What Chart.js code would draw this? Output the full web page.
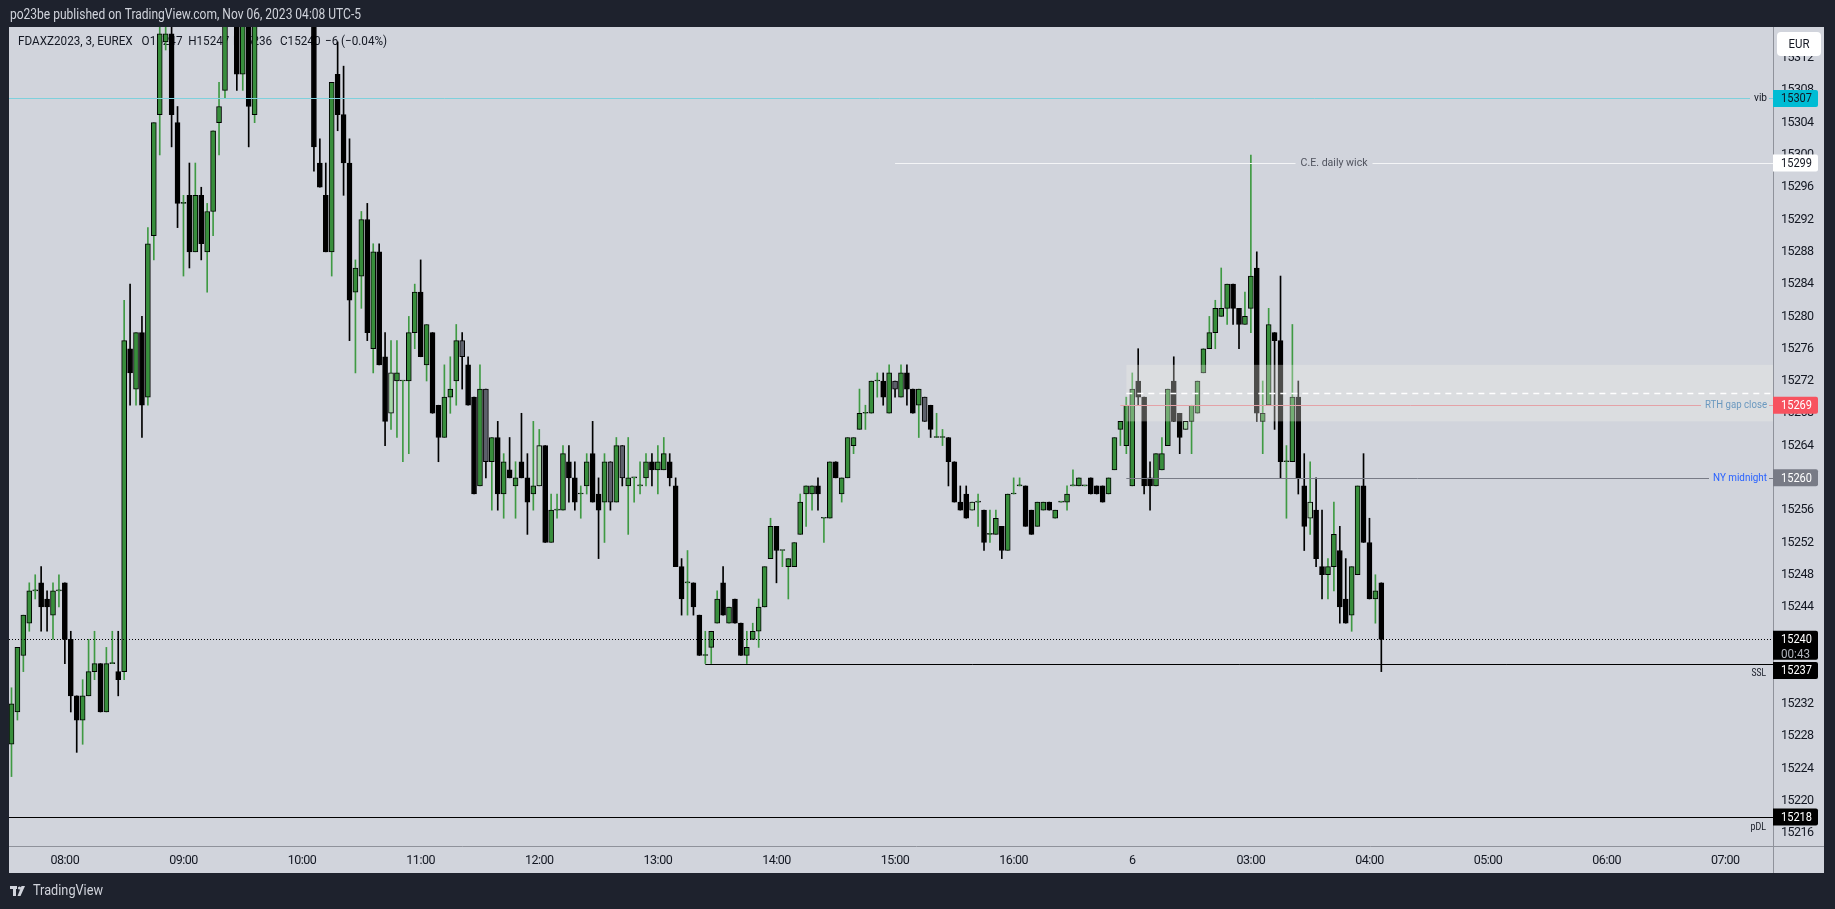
<!DOCTYPE html>
<html>
<head>
<meta charset="utf-8">
<title>FDAXZ2023, 3, EUREX</title>
<script src="https://cdn.jsdelivr.net/npm/chart.js@4.4.1/dist/chart.umd.min.js"></script>
<style>
  html, body { margin: 0; padding: 0; background: #1e222d; overflow: hidden; }
  #wrap { position: relative; width: 1835px; height: 909px; }
</style>
</head>
<body>
<div id="wrap"><canvas id="chart"></canvas></div>
<script>
// 3 minute candles, bar 0 = 07:33 (Nov 3) ... bar 231 = 04:06 (Nov 6)
const openP = [
  15227,15231,15238,15242,15246,15247,15245,15243,15246,15247,
  15240,15233,15230,15233,15236,15237,15231,15237,15236,15236,
  15276,15271,15278,15270,15290,15305,15314,15315,15304,15294,
  15295,15288,15295,15288,15293,15304,15308,15318,15321,15310,
  15317,15305,15318,15322,15326,15324,15321,15325,15329,15326,
  15323,15322,15299,15295,15288,15310,15305,15299,15283,15285,
  15292,15276,15288,15275,15268,15272,15272,15272,15278,15283,
  15274,15278,15269,15265,15270,15272,15277,15274,15270,15259,
  15271,15262,15265,15258,15261,15259,15262,15260,15258,15259,
  15264,15252,15256,15256,15262,15260,15258,15259,15263,15258,
  15257,15262,15257,15264,15259,15260,15259,15260,15262,15261,
  15261,15262,15259,15249,15247,15247,15243,15238,15239,15242,
  15247,15242,15245,15242,15238,15240,15241,15244,15250,15254,
  15251,15249,15249,15253,15258,15258,15259,15255,15255,15262,
  15258,15260,15264,15266,15268,15268,15272,15272,15268,15272,
  15270,15273,15271,15269,15270,15269,15265,15265,15265,15262,
  15257,15258,15256,15257,15256,15253,15253,15254,15251,15258,
  15259,15259,15256,15254,15256,15257,15255,15257,15257,15259,
  15259,15259,15260,15259,15259,15258,15261,15266,15264,15259,
  15272,15270,15260,15259,15261,15264,15272,15268,15266,15267,
  15268,15273,15276,15278,15280,15281,15284,15281,15279,15281,
  15286,15267,15269,15278,15277,15262,15262,15270,15259,15255,
  15256,15249,15248,15249,15251,15245,15243,15248,15259,15252,
  15245,15247
];
const highP = [
  15234,15239,15243,15247,15248,15249,15246,15247,15248,15247,
  15241,15233,15235,15240,15241,15237,15239,15241,15241,15282,
  15284,15278,15280,15291,15304,15316,15318,15317,15306,15295,
  15299,15299,15296,15294,15303,15309,15320,15324,15323,15319,
  15319,15320,15324,15328,15330,15327,15326,15331,15332,15328,
  15327,15325,15302,15299,15309,15314,15311,15302,15287,15293,
  15294,15289,15289,15278,15277,15277,15272,15280,15284,15287,
  15279,15278,15269,15274,15275,15279,15278,15275,15270,15274,
  15271,15265,15267,15263,15265,15262,15268,15263,15267,15266,
  15264,15258,15258,15264,15264,15262,15259,15263,15267,15260,
  15263,15262,15265,15264,15265,15260,15262,15263,15263,15264,
  15265,15263,15260,15250,15251,15247,15243,15241,15241,15246,
  15249,15244,15245,15242,15241,15242,15245,15249,15255,15254,
  15251,15250,15252,15258,15259,15259,15260,15255,15262,15262,
  15260,15265,15265,15271,15269,15272,15273,15273,15274,15272,
  15274,15274,15271,15271,15270,15269,15268,15266,15265,15262,
  15259,15259,15257,15258,15256,15256,15256,15254,15258,15260,
  15260,15259,15256,15257,15257,15257,15256,15257,15259,15261,
  15260,15259,15260,15259,15259,15260,15265,15267,15270,15273,
  15276,15270,15262,15263,15265,15271,15275,15268,15267,15269,
  15272,15276,15280,15282,15286,15284,15284,15281,15283,15300,
  15288,15272,15281,15278,15285,15264,15279,15272,15263,15262,
  15260,15256,15250,15257,15254,15250,15249,15259,15263,15255,
  15248,15247
];
const lowP = [
  15223,15230,15236,15241,15245,15241,15241,15240,15244,15237,
  15231,15226,15227,15233,15235,15231,15231,15237,15233,15235,
  15269,15269,15265,15269,15287,15300,15313,15301,15291,15285,
  15286,15288,15287,15283,15290,15300,15307,15316,15308,15308,
  15301,15304,15317,15320,15322,15319,15318,15323,15324,15320,
  15319,15298,15296,15288,15285,15303,15295,15277,15273,15281,
  15277,15273,15274,15264,15266,15265,15262,15263,15276,15275,
  15272,15268,15262,15265,15268,15269,15271,15269,15258,15259,
  15260,15256,15256,15255,15260,15255,15260,15253,15256,15259,
  15252,15252,15255,15256,15257,15256,15255,15258,15257,15250,
  15252,15256,15257,15259,15253,15257,15258,15259,15259,15258,
  15261,15259,15249,15243,15243,15243,15238,15237,15237,15242,
  15243,15242,15242,15238,15237,15240,15239,15244,15250,15247,
  15249,15245,15249,15253,15254,15256,15256,15252,15255,15260,
  15257,15260,15263,15266,15266,15268,15270,15269,15268,15270,
  15270,15269,15268,15265,15267,15265,15265,15264,15259,15257,
  15256,15255,15256,15254,15251,15252,15253,15250,15251,15258,
  15259,15254,15253,15254,15256,15256,15255,15257,15256,15259,
  15259,15259,15258,15258,15257,15258,15261,15264,15263,15259,
  15269,15258,15256,15259,15261,15264,15267,15263,15266,15263,
  15268,15273,15276,15276,15280,15279,15279,15276,15279,15278,
  15267,15263,15269,15266,15260,15255,15262,15258,15251,15253,
  15249,15245,15245,15246,15242,15242,15241,15248,15252,15245,
  15242,15236
];
const closeP = [
  15232,15239,15243,15246,15246,15244,15244,15246,15246,15240,
  15233,15230,15233,15236,15237,15231,15237,15237,15235,15277,
  15273,15278,15269,15289,15304,15315,15315,15305,15294,15294,
  15288,15295,15289,15293,15303,15306,15318,15322,15310,15317,
  15306,15318,15322,15326,15324,15321,15325,15329,15326,15323,
  15322,15301,15296,15288,15309,15305,15299,15282,15286,15292,
  15278,15288,15274,15267,15273,15273,15272,15278,15283,15275,
  15279,15268,15265,15270,15271,15277,15275,15269,15258,15271,
  15262,15265,15258,15262,15260,15260,15260,15257,15259,15264,
  15252,15256,15256,15263,15260,15257,15258,15262,15257,15256,
  15262,15257,15264,15260,15260,15260,15259,15262,15261,15262,
  15263,15260,15249,15245,15247,15244,15238,15238,15241,15245,
  15243,15244,15242,15238,15239,15241,15244,15249,15254,15251,
  15251,15250,15252,15257,15259,15259,15258,15255,15262,15260,
  15260,15265,15265,15268,15268,15272,15272,15270,15273,15271,
  15273,15271,15268,15271,15267,15266,15265,15265,15262,15257,
  15256,15255,15257,15257,15252,15253,15255,15251,15258,15258,
  15259,15254,15253,15257,15257,15256,15256,15257,15258,15259,
  15260,15259,15258,15258,15257,15260,15265,15267,15269,15271,
  15270,15259,15259,15263,15263,15271,15267,15265,15267,15269,
  15272,15276,15278,15281,15281,15284,15281,15279,15280,15285,
  15268,15268,15279,15277,15262,15262,15270,15260,15254,15257,
  15250,15248,15249,15253,15244,15242,15249,15259,15252,15245,
  15246,15240
];

// candles painted in other colours on the original
const lightBars = [64, 89, 162, 198, 219];
const grayBars = [76, 80, 101, 103, 149, 154];

// time axis
const timeTickIdx = [9, 29, 49, 69, 89, 109, 129, 149, 169, 189, 209, 229, 249, 269, 289];
const timeTickText = ['08:00', '09:00', '10:00', '11:00', '12:00', '13:00', '14:00', '15:00',
  '16:00', '6', '03:00', '04:00', '05:00', '06:00', '07:00'];

// price axis
const priceTicks = [15216, 15220, 15224, 15228, 15232, 15236, 15240, 15244, 15248, 15252,
  15256, 15260, 15264, 15268, 15272, 15276, 15280, 15284, 15288, 15292, 15296, 15300,
  15304, 15308, 15312];

// horizontal levels drawn on the chart
const levelNames = ['vib', 'C.E. daily wick', 'RTH gap close', 'NY midnight', 'SSL', 'pDL'];
const levelPrices = [15307, 15299, 15269, 15260, 15237, 15218];
const levelFromBar = [-1, 149, 187, 188, 117, -1];

// RTH gap zone
const zoneFromBar = 188;
const zoneHigh = 15274;
const zoneLow = 15267;

const FONT = "Roboto, 'Liberation Sans', sans-serif";
const last = closeP.length - 1;
const idx = closeP.map((_, i) => i);

function isUp(i) { return closeP[i] >= openP[i]; }
function bodyColor(i) {
  if (lightBars.includes(i)) return '#a5d6a7';
  if (grayBars.includes(i)) return '#5d606b';
  return isUp(i) ? '#388e3c' : '#000000';
}
function wickColor(i) {
  if (grayBars.includes(i)) return '#000000';
  return isUp(i) ? '#3f9a43' : '#000000';
}

// squeeze text horizontally so it takes the narrow width of the original UI font
function fitText(ctx, text, x, y, w, align) {
  ctx.save();
  ctx.letterSpacing = '0px';
  const nat = ctx.measureText(text).width;
  const k = Math.min(1, w / nat);
  ctx.translate(x, y);
  ctx.scale(k, 1);
  ctx.textAlign = align || 'left';
  ctx.fillText(text, 0, 0);
  ctx.restore();
  return nat * k;
}

function hLine(ctx, x1, x2, y, color, width, dash) {
  if (x2 <= x1) return;
  ctx.save();
  ctx.strokeStyle = color;
  ctx.lineWidth = width;
  ctx.setLineDash(dash || []);
  const yy = Math.round(y) + (width % 2 ? 0.5 : 0);
  ctx.beginPath();
  ctx.moveTo(x1, yy);
  ctx.lineTo(x2, yy);
  ctx.stroke();
  ctx.restore();
}

function roundBox(ctx, x, y, w, h, r, fill) {
  ctx.save();
  ctx.fillStyle = fill;
  ctx.beginPath();
  ctx.moveTo(x, y);
  ctx.lineTo(x + w - r, y);
  ctx.quadraticCurveTo(x + w, y, x + w, y + r);
  ctx.lineTo(x + w, y + h - r);
  ctx.quadraticCurveTo(x + w, y + h, x + w - r, y + h);
  ctx.lineTo(x, y + h);
  ctx.closePath();
  ctx.fill();
  ctx.restore();
}

const levelStyle = {
  'vib': { line: '#7fd0dc', text: '#131722', place: 'end', w: 13, box: '#00bcd4', fg: '#131722' },
  'C.E. daily wick': { line: '#f4f5f7', text: '#50535e', place: 'middle', w: 67, box: '#ffffff', fg: '#131722' },
  'RTH gap close': { line: '#e4a2a7', text: '#6a98bf', place: 'end', w: 62, box: '#f7525f', fg: '#ffffff' },
  'NY midnight': { line: '#787b86', text: '#2962ff', place: 'end', w: 54, box: '#787b86', fg: '#ffffff' },
  'SSL': { line: '#000000', text: '#131722', place: 'below', w: 14.5, box: '#000000', fg: '#ffffff', shift: 7 },
  'pDL': { line: '#000000', text: '#131722', place: 'below', w: 15.5, box: '#000000', fg: '#ffffff' }
};

const tvDecor = {
  id: 'tvDecor',
  beforeDraw(chart) {
    const ctx = chart.ctx;
    ctx.save();
    ctx.fillStyle = '#1e222d';
    ctx.fillRect(0, 0, chart.width, chart.height);
    ctx.fillStyle = '#d1d4dc';
    ctx.fillRect(9, 27, 1815, 846);
    ctx.restore();
    // tighter axis labels, closer to the narrow original font
    ctx.letterSpacing = '-0.5px';
  },
  beforeDatasetsDraw(chart) {
    // symbol legend sits under the candles
    const ctx = chart.ctx;
    const chg = closeP[last] - closeP[last - 1];
    const sign = chg < 0 ? '\u2212' : '+';
    const pct = Math.abs(chg / closeP[last - 1] * 100).toFixed(2);
    const parts = ['FDAXZ2023, 3, EUREX', 'O' + openP[last], 'H' + highP[last], 'L' + lowP[last],
      'C' + closeP[last], sign + Math.abs(chg), '(' + sign + pct + '%)'];
    const xs = [18, 141.6, 188.2, 233, 280, 325, 341];
    ctx.save();
    ctx.font = '13px ' + FONT;
    ctx.fillStyle = '#131722';
    ctx.textBaseline = 'middle';
    ctx.letterSpacing = '0px';
    const k = 114.7 / ctx.measureText(parts[0]).width;
    parts.forEach((t, j) => fitText(ctx, t, xs[j], 42, ctx.measureText(t).width * k));
    ctx.restore();
  },
  afterDatasetsDraw(chart) {
    const ctx = chart.ctx;
    const xS = chart.scales.x, yS = chart.scales.y;
    const { left, right } = chart.chartArea;

    // gap zone
    const zx = xS.getPixelForValue(zoneFromBar);
    const zt = yS.getPixelForValue(zoneHigh), zb = yS.getPixelForValue(zoneLow);
    ctx.save();
    ctx.fillStyle = 'rgba(238,238,234,0.32)';
    ctx.fillRect(zx, zt, right - zx, zb - zt);
    ctx.restore();
    hLine(ctx, zx, right, yS.getPixelForValue((zoneHigh + zoneLow) / 2), '#ffffff', 1.5, [6, 5]);

    // last price dotted line
    hLine(ctx, left, right, yS.getPixelForValue(closeP[last]), '#000000', 1, [1, 2]);

    levelNames.forEach((name, k) => {
      const st = levelStyle[name];
      const y = yS.getPixelForValue(levelPrices[k]);
      const x1 = levelFromBar[k] < 0 ? left : xS.getPixelForValue(levelFromBar[k]);
      ctx.save();
      ctx.font = '11px ' + FONT;
      ctx.fillStyle = st.text;
      ctx.textBaseline = 'middle';
      const w = st.w;
      if (st.place === 'end') {
        const tx = right - 6 - w;
        hLine(ctx, x1, tx - 4, y, st.line, 1);
        hLine(ctx, right - 4, right, y, st.line, 1);
        fitText(ctx, name, tx, y, w);
      } else if (st.place === 'middle') {
        const cx = (x1 + right) / 2;
        hLine(ctx, x1, cx - w / 2 - 5, y, st.line, 1);
        hLine(ctx, cx + w / 2 + 5, right, y, st.line, 1);
        fitText(ctx, name, cx, y, w, 'center');
      } else {
        hLine(ctx, x1, right, y, st.line, 1);
        fitText(ctx, name, right - 7, y + 10, w, 'right');
      }
      ctx.restore();
    });
  },
  afterDraw(chart) {
    const ctx = chart.ctx;
    const yS = chart.scales.y;
    const { right, bottom } = chart.chartArea;
    ctx.save();
    ctx.letterSpacing = '0px';

    // pane separators
    ctx.strokeStyle = '#8f929b';
    ctx.lineWidth = 1;
    ctx.beginPath();
    ctx.moveTo(right + 0.5, 27); ctx.lineTo(right + 0.5, 873);
    ctx.moveTo(9, bottom + 0.5); ctx.lineTo(1824, bottom + 0.5);
    ctx.stroke();

    // price axis labels for the levels
    ctx.font = '13px ' + FONT;
    ctx.textBaseline = 'middle';
    levelNames.forEach((name, k) => {
      const st = levelStyle[name];
      const y = yS.getPixelForValue(levelPrices[k]) + (st.shift || 0);
      roundBox(ctx, right, y - 8.5, 45, 17, 2, st.box);
      ctx.fillStyle = st.fg;
      fitText(ctx, String(levelPrices[k]), right + 8, y + 0.5, 31);
    });

    // last price with bar countdown
    const yl = yS.getPixelForValue(closeP[last]);
    roundBox(ctx, right, yl - 8.5, 45, 29, 2, '#000000');
    ctx.fillStyle = '#ffffff';
    fitText(ctx, String(closeP[last]), right + 8, yl + 0.5, 31);
    ctx.fillStyle = '#b2b5be';
    fitText(ctx, '00:43', right + 8, yl + 15.5, 29);

    // currency button
    ctx.fillStyle = '#ffffff';
    ctx.beginPath();
    ctx.roundRect(1777, 32, 44, 24, 4);
    ctx.fill();
    ctx.fillStyle = '#131722';
    fitText(ctx, 'EUR', 1799, 44.5, 21, 'center');

    // header
    ctx.font = '14px ' + FONT;
    ctx.fillStyle = '#d1d4dc';
    fitText(ctx, 'po23be published on TradingView.com, Nov 06, 2023 04:08 UTC-5', 10, 15, 351);

    // footer logo
    ctx.fillStyle = '#d1d4dc';
    ctx.fillRect(10, 886, 7, 3);
    ctx.fillRect(13, 886, 3, 10);
    ctx.beginPath();
    ctx.arc(19.5, 888, 1.6, 0, Math.PI * 2);
    ctx.fill();
    ctx.beginPath();
    ctx.moveTo(21.5, 886); ctx.lineTo(25, 886); ctx.lineTo(20.5, 896); ctx.lineTo(17.5, 896);
    ctx.closePath();
    ctx.fill();
    ctx.font = '14px ' + FONT;
    fitText(ctx, 'TradingView', 33, 891, 70);
    ctx.restore();
  }
};

new Chart(document.getElementById('chart'), {
  type: 'bar',
  data: {
    datasets: [
      {
        label: 'body',
        data: idx.map(i => ({ x: i, y: [openP[i], closeP[i]] })),
        backgroundColor: idx.map(bodyColor),
        borderColor: '#000000',
        borderWidth: 1,
        borderSkipped: false,
        barThickness: 5,
        minBarLength: 1,
        grouped: false,
        clip: 0,
        order: 0
      },
      {
        label: 'wick',
        data: idx.map(i => ({ x: i, y: [lowP[i], highP[i]] })),
        backgroundColor: idx.map(wickColor),
        borderWidth: 0,
        barThickness: 1,
        grouped: false,
        clip: 0,
        order: 1
      }
    ]
  },
  options: {
    responsive: true,
    maintainAspectRatio: false,
    animation: false,
    events: [],
    layout: { padding: { left: 9, top: 27, right: 11, bottom: 36 } },
    plugins: { legend: { display: false }, tooltip: { enabled: false } },
    scales: {
      x: {
        type: 'linear',
        min: -0.42,
        max: 297.05,
        offset: false,
        grid: { display: false, drawTicks: false },
        border: { display: false },
        afterBuildTicks: (axis) => { axis.ticks = timeTickIdx.map(v => ({ value: v })); },
        afterFit: (axis) => { axis.height = 27; },
        ticks: {
          autoSkip: false,
          maxRotation: 0,
          padding: 7,
          color: '#131722',
          font: { family: FONT, size: 12.5 },
          callback: (v) => timeTickText[timeTickIdx.indexOf(v)]
        }
      },
      y: {
        position: 'right',
        min: 15214.4,
        max: 15315.85,
        grid: { display: false, drawTicks: false },
        border: { display: false },
        afterBuildTicks: (axis) => { axis.ticks = priceTicks.map(v => ({ value: v })); },
        afterFit: (axis) => { axis.width = 51; },
        ticks: {
          padding: 8,
          color: '#131722',
          font: { family: FONT, size: 12.5 },
          callback: (v) => String(v)
        }
      }
    }
  },
  plugins: [tvDecor]
});
</script>
</body>
</html>
